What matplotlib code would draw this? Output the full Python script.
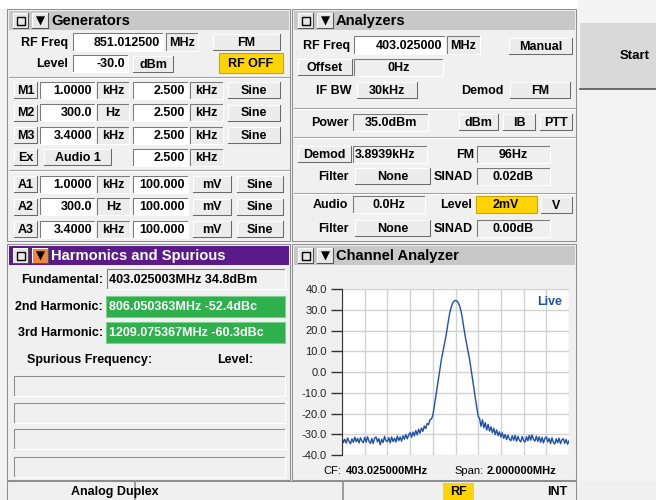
import numpy as np
import matplotlib.pyplot as plt
from matplotlib.patches import Rectangle

plt.rcParams['font.family'] = ['Liberation Sans', 'DejaVu Sans']

# channel analyzer trace, dBm, 161 points across the span
trace_db = [
    -31.6, -34.0, -32.4, -34.3, -31.8, -33.5, -34.6, -32.2, -33.9, -31.4, -33.6, -32.0, -34.2, -31.7, -33.3, -34.1,
    -31.5, -33.8, -31.2, -33.4, -34.4, -32.0, -34.5, -31.9, -31.3, -33.7, -32.1, -35.0, -32.4, -34.0, -31.0, -33.2,
    -33.6, -31.6, -34.2, -31.3, -33.5, -31.9, -33.8, -30.9, -33.1, -31.3, -33.3, -30.7, -32.4, -30.1, -32.2, -30.3,
    -29.2, -31.5, -28.9, -30.8, -28.2, -30.3, -27.6, -29.5, -27.0, -28.6, -26.0, -27.3, -24.8, -25.4, -23.0, -22.6,
    -21.0, -16.8, -12.3, -7.7, -3.2, 1.3, 5.8, 9.3, 12.8, 16.3, 20.3, 24.8, 28.6, 31.3, 33.2, 34.2,
    34.5,
    34.2, 33.3, 31.6, 29.0, 25.2, 20.7, 16.6, 13.0, 9.4, 5.8, 1.2, -3.4, -8.0, -12.6, -17.2, -21.3,
    -22.5, -26.2, -23.0, -26.9, -24.4, -28.0, -25.2, -28.5, -26.4, -29.3, -27.1, -30.2, -27.9, -30.7, -28.8, -31.4,
    -29.3, -32.0, -30.1, -32.6, -30.4, -32.3, -33.1, -30.7, -32.9, -30.5, -33.4, -31.0, -32.8, -33.7, -31.1, -33.0,
    -33.8, -31.2, -33.2, -30.5, -32.9, -30.3, -32.5, -33.3, -30.9, -33.5, -31.2, -33.9, -31.5, -34.2, -32.0, -31.2,
    -33.7, -32.0, -34.5, -31.7, -34.0, -34.7, -32.2, -34.1, -31.9, -34.6, -32.7, -32.1, -34.4, -32.5, -34.8, -33.2,
]
center_mhz = 403.025
span_mhz = 2.0
y_ticks = [40, 30, 20, 10, 0, -10, -20, -30, -40]

mod_rows = [
    ("M1", "1.0000", "kHz", "2.500", "kHz", "Sine"),
    ("M2", "300.0", "Hz", "2.500", "kHz", "Sine"),
    ("M3", "3.4000", "kHz", "2.500", "kHz", "Sine"),
]
audio_rows = [
    ("A1", "1.0000", "kHz", "100.000", "mV", "Sine"),
    ("A2", "300.0", "Hz", "100.000", "mV", "Sine"),
    ("A3", "3.4000", "kHz", "100.000", "mV", "Sine"),
]
harmonics = [
    ("2nd Harmonic:", "806.050363MHz -52.4dBc"),
    ("3rd Harmonic:", "1209.075367MHz -60.3dBc"),
]

W, H = 656, 500
fig = plt.figure(figsize=(W / 100, H / 100), dpi=100, facecolor='#f3f3f3')
ui = fig.add_axes([0, 0, 1, 1])
ui.set_xlim(0, W)
ui.set_ylim(H, 0)
ui.axis('off')

FS = 9
LW = 0.75


def rect(x0, y0, x1, y1, fc, ec='none', lw=LW, z=1):
    ui.add_patch(Rectangle((x0, y0), x1 - x0, y1 - y0, facecolor=fc,
                           edgecolor=ec, lw=lw, zorder=z))


def bevel(x0, y0, x1, y1, light, dark, z=2):
    ui.plot([x0, x0, x1], [y1, y0, y0], color=light, lw=LW, zorder=z)
    ui.plot([x0, x1, x1], [y1, y1, y0], color=dark, lw=LW, zorder=z)


def text(x, y, s, ha='left', fs=FS, weight='bold', color='black', z=5):
    ui.text(x, y + 0.8, s, ha=ha, va='center', fontsize=fs, weight=weight,
            color=color, zorder=z)


def button(x0, x1, yc, label, h=16, fc='#ececec'):
    y0, y1 = yc - h / 2, yc + h / 2
    rect(x0, y0, x1, y1, fc)
    bevel(x0, y0, x1, y1, 'white', '#6a6a6a')
    text((x0 + x1) / 2, yc, label, ha='center')


def field(x0, x1, yc, label='', h=17, fc='white', ha='right', color='black'):
    y0, y1 = yc - h / 2, yc + h / 2
    rect(x0, y0, x1, y1, fc)
    bevel(x0, y0, x1, y1, '#7a7a7a', 'white')
    if ha == 'right':
        text(x1 - 3, yc, label, ha='right', color=color)
    elif ha == 'center':
        text((x0 + x1) / 2, yc, label, ha='center', color=color)
    else:
        text(x0 + 2, yc, label, color=color)


def sep(x0, x1, y):
    ui.plot([x0, x1], [y, y], color='#a0a0a0', lw=LW, zorder=2)
    ui.plot([x0, x1], [y + 1, y + 1], color='white', lw=LW, zorder=2)


def panel(x0, y0, x1, y1, title, bar='#c8c8c8', tcolor='black', arrow_fc='#e6e6e6'):
    rect(x0, y0, x1, y1, '#f0f0f0', ec='#8e8e8e')
    rect(x0 + 2, y0 + 2, x1 - 1, y0 + 21, bar)
    rect(x0 + 6, y0 + 4, x0 + 21, y0 + 19, '#e6e6e6')
    bevel(x0 + 6, y0 + 4, x0 + 21, y0 + 19, 'white', '#555555')
    rect(x0 + 9.5, y0 + 7.5, x0 + 17.5, y0 + 15.5, 'none', ec='black', lw=1, z=3)
    rect(x0 + 25, y0 + 4, x0 + 41, y0 + 19, arrow_fc)
    bevel(x0 + 25, y0 + 4, x0 + 41, y0 + 19, 'white', '#555555')
    ui.text(x0 + 33, y0 + 12, '\u25bc', fontsize=8.5, ha='center', va='center',
            family='DejaVu Sans', zorder=5)
    text(x0 + 44, y0 + 11.5, title, fs=10.6, color=tcolor)


# background strips
rect(0, 0, 578, 9, 'white', z=0)

# ---- Generators
panel(7, 9, 290, 241, 'Generators')
text(68, 42, 'RF Freq', ha='right')
field(73, 163, 42, '851.012500', h=18)
field(166, 198, 42, 'MHz', h=18, fc='#ececec', ha='center')
button(213, 280, 42, 'FM')
text(68, 63, 'Level', ha='right')
field(73, 128, 63, '-30.0')
button(133, 173, 64, 'dBm')
rect(219, 53, 283, 73, '#ffd400', ec='#c9a400', z=2)
text(251, 63, 'RF OFF', ha='center')
sep(9, 289, 77)
for i, (m, v1, u1, v2, u2, w) in enumerate(mod_rows):
    yc = 90 + i * 22.5
    button(14, 37, yc, m)
    field(40, 95, yc, v1)
    field(97, 129, yc, u1, fc='#ececec', ha='center')
    field(133, 188, yc, v2)
    field(190, 223, yc, u2, fc='#ececec', ha='center')
    button(228, 280, yc, w)
button(14, 37, 157, 'Ex')
button(44, 111, 157, 'Audio 1')
field(133, 188, 157, '2.500')
field(190, 223, 157, 'kHz', fc='#ececec', ha='center')
sep(9, 289, 170)
for i, (m, v1, u1, v2, u2, w) in enumerate(audio_rows):
    yc = 184 + i * 22.5
    button(14, 37, yc, m)
    field(40, 95, yc, v1)
    field(97, 130, yc, u1, fc='#ececec', ha='center')
    field(133, 188, yc, v2)
    button(193, 231, yc, u2)
    button(237, 283, yc, w)

# ---- Analyzers
panel(292, 9, 576, 241, 'Analyzers')
text(350, 45, 'RF Freq', ha='right')
field(354, 445, 45, '403.025000', h=18)
field(447, 480, 45, 'MHz', h=18, fc='#ececec', ha='center')
button(509, 572, 46, 'Manual')
button(298, 352, 67, 'Offset')
field(354, 443, 67, '0Hz', fc='#efefef', ha='center')
text(351, 90, 'IF BW', ha='right')
button(357, 417, 90, '30kHz')
text(504, 90, 'Demod', ha='right')
button(510, 570, 90, 'FM')
sep(294, 575, 108)
text(349, 122, 'Power', ha='right')
field(353, 428, 122, '35.0dBm', fc='#efefef', ha='center')
button(459, 498, 122, 'dBm')
button(503, 535, 122, 'IB')
button(540, 572, 122, 'PTT')
sep(294, 575, 137)
button(298, 351, 154, 'Demod')
field(353, 427, 154, '3.8939kHz', fc='#efefef', ha='left')
text(474, 154, 'FM', ha='right')
field(477, 550, 154, '96Hz', fc='#efefef', ha='center')
text(349, 176, 'Filter', ha='right')
button(355, 430, 176, 'None')
text(473, 176, 'SINAD', ha='right')
field(477, 550, 176, '0.02dB', fc='#efefef', ha='center')
sep(294, 575, 193)
text(348, 204, 'Audio', ha='right')
field(353, 425, 204, '0.0Hz', fc='#efefef', ha='center')
text(472, 204, 'Level', ha='right')
rect(476, 196, 537, 213, '#ffd400', ec='#c9a400', z=2)
text(506, 204, '2mV', ha='center')
button(541, 572, 205, 'V')
text(349, 228, 'Filter', ha='right')
button(355, 430, 228, 'None')
text(473, 228, 'SINAD', ha='right')
field(477, 550, 228, '0.00dB', fc='#efefef', ha='center')

# ---- Start button
rect(580, 23, 656, 89, '#d9d9d9')
ui.plot([580, 656], [88.5, 88.5], color='#555555', lw=1.2, zorder=2)
text(620, 55, 'Start', fs=9.5)

# ---- Harmonics and Spurious
panel(7, 244, 290, 480, 'Harmonics and Spurious', bar='#5a1a8a',
      tcolor='white', arrow_fc='#f0843c')
text(103, 279, 'Fundamental:', ha='right')
field(107, 285, 279, '403.025003MHz 34.8dBm', h=20, fc='#f0f0f0', ha='left')
for i, (lab, val) in enumerate(harmonics):
    yc = 306 + i * 26
    text(103, yc, lab, ha='right')
    rect(106, yc - 10.5, 285, yc + 10.5, '#2eb04c', ec='#7fd08f', z=2)
    text(109, yc, val, color='white')
text(27, 359, 'Spurious Frequency:')
text(217, 359, 'Level:')
for y0 in [376, 403, 429, 457]:
    rect(14, y0, 285, y0 + 20, '#f0f0f0')
    bevel(14, y0, 285, y0 + 20, '#8a8a8a', 'white')

# ---- Channel Analyzer
panel(292, 244, 576, 480, 'Channel Analyzer')
text(323, 470, 'CF:', fs=8, weight='normal')
text(346, 470, f'{center_mhz:.6f}MHz', fs=8)
text(454, 470, 'Span:', fs=8, weight='normal')
text(487, 470, f'{span_mhz:.6f}MHz', fs=8)

# ---- status bar
rect(0, 481, 656, 500, '#f0f0f0', z=1)
ui.plot([7, 576], [481, 481], color='#8e8e8e', lw=LW, zorder=2)
ui.plot([7, 7], [481, 500], color='#8e8e8e', lw=LW, zorder=2)
ui.plot([135, 135], [481, 500], color='#8e8e8e', lw=1.2, zorder=2)
ui.plot([343, 343], [481, 500], color='#8e8e8e', lw=1.2, zorder=2)
ui.plot([576, 576], [481, 500], color='#8e8e8e', lw=LW, zorder=2)
text(71, 491, 'Analog Duplex')
rect(443, 483, 474, 500, '#ffd400', z=2)
text(458.5, 491, 'RF', ha='center')
text(567, 491, 'INT', ha='right')

# ---- spectrum plot
ax = fig.add_axes([342 / W, 1 - 455 / H, 227 / W, 166 / H])
freq = np.linspace(center_mhz - span_mhz / 2, center_mhz + span_mhz / 2, len(trace_db))
ax.set_facecolor('white')
ax.plot(freq, trace_db, color='#1f4fa8', lw=1.0)
ax.set_xlim(freq[0], freq[-1])
ax.set_ylim(-40, 40)
ax.set_xticks(np.linspace(freq[0], freq[-1], 11))
ax.set_xticklabels([])
ax.set_yticks(y_ticks)
ax.set_yticklabels([f'{v:.1f}' for v in y_ticks])
ax.tick_params(axis='x', length=0)
ax.tick_params(axis='y', length=8, width=1, color='#333333', labelsize=8,
               labelcolor='#222222', pad=3)
ax.grid(True, color='#d2d2d2', lw=1)
ax.set_axisbelow(True)
for s in ['top', 'right', 'bottom']:
    ax.spines[s].set_visible(False)
ax.spines['left'].set_color('#333333')
ax.text(0.97, 0.92, 'Live', transform=ax.transAxes, ha='right', va='center',
        fontsize=8.9, weight='bold', color='#1f4fa8')

fig.savefig('out.png', dpi=100, facecolor=fig.get_facecolor())
